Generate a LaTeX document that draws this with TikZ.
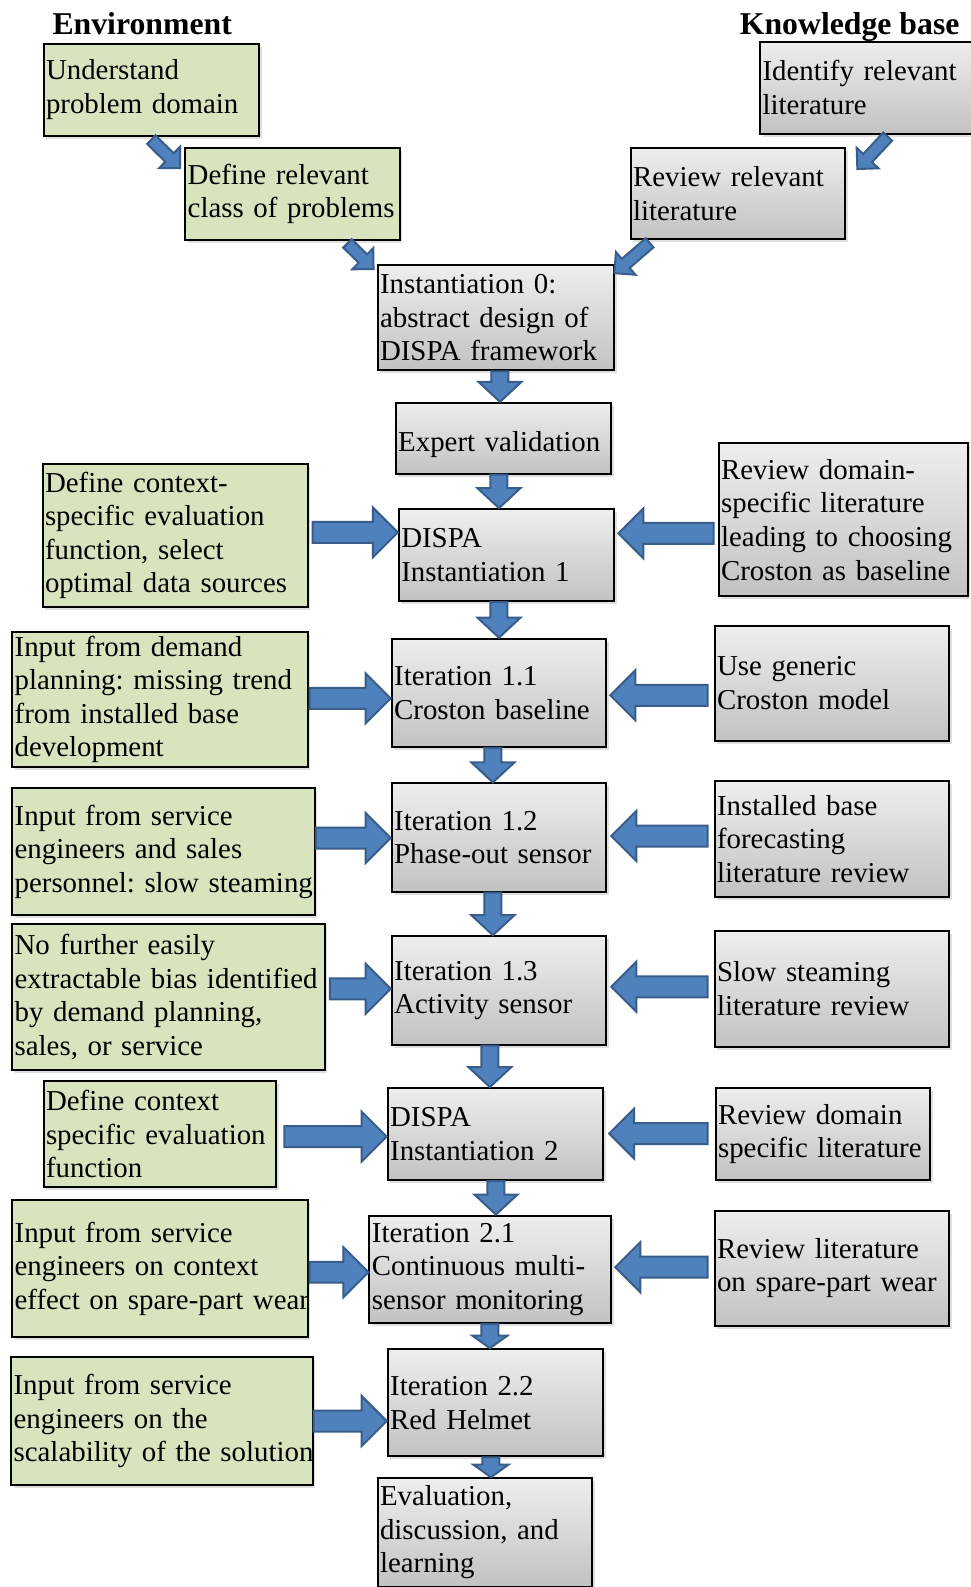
\documentclass[tikz,border=0pt]{standalone}
\usepackage{fontspec}
\setmainfont{Liberation Serif}
\usepackage{tikz}
\definecolor{officeGreen}{HTML}{D7E4BD}
\definecolor{officeBlue}{HTML}{4F81BD}
\definecolor{officeBlueDark}{HTML}{385D8A}
\definecolor{grayTop}{HTML}{EEEEEE}
\definecolor{grayBottom}{HTML}{C2C2C2}
\usetikzlibrary{calc}
\usetikzlibrary{shadows}

\newcommand{\pxunit}{0.405pt}
\newcommand{\boxfont}{\fontsize{11.55pt}{13.45pt}\selectfont\frenchspacing}
\newcommand{\titlefont}{\fontsize{12.7pt}{14pt}\selectfont\bfseries}

\tikzset{
  box/.style 2 args={draw=black, line width=0.8pt, font=\boxfont, align=left,
    inner xsep=1pt, inner ysep=0pt,
    minimum width=#1*\pxunit, minimum height=#2*\pxunit, text width=#1*\pxunit-2pt,
    drop shadow={shadow xshift=1pt, shadow yshift=-1.2pt, opacity=0.25}},
  envbox/.style 2 args={box={#1}{#2}, fill=officeGreen},
  kbbox/.style 2 args={box={#1}{#2}, top color=grayTop, bottom color=grayBottom},
  barrow/.style n args={3}{draw=officeBlueDark, fill=officeBlue, line width=0.8pt,
    to path={let \p1=(\tikztostart), \p2=(\tikztotarget),
      \n1={atan2(\y2-\y1,\x2-\x1)}, \n2={veclen(\x2-\x1,\y2-\y1)} in
      ([shift={(\p1)},rotate=\n1]0pt,#1)
      -- ([shift={(\p1)},rotate=\n1]\n2-#3,#1)
      -- ([shift={(\p1)},rotate=\n1]\n2-#3,#2)
      -- ([shift={(\p1)},rotate=\n1]\n2,0pt)
      -- ([shift={(\p1)},rotate=\n1]\n2-#3,-#2)
      -- ([shift={(\p1)},rotate=\n1]\n2-#3,-#1)
      -- ([shift={(\p1)},rotate=\n1]0pt,-#1)
      -- cycle}},
  varrow/.style={barrow={3.4pt}{8.6pt}{8pt}},
  shortvarrow/.style={barrow={3.4pt}{7pt}{5pt}},
  harrow/.style={barrow={4.2pt}{10pt}{10pt}},
  darrow/.style={barrow={2.4pt}{6pt}{6pt}},
  title/.style={font=\titlefont, anchor=base, inner sep=0pt}
}

\begin{document}
\begin{tikzpicture}[x=0.405pt, y=-0.405pt]
  \useasboundingbox (0,0) rectangle (959,1568);

  \node[title] (envtitle) at (140.5,34) {Environment};
  \node[title] (kbtitle) at (839.5,34) {Knowledge base};

  \node[envbox={213}{91}] (und) at (149.5,88.5) {Understand\\problem domain};
  \node[envbox={212}{91}] (defc) at (289,191.5) {Define relevant\\class of problems};
  \node[envbox={262}{142}] (ctx1) at (173,529) {Define context-\\specific evaluation\\function, select\\optimal data sources};
  \node[envbox={292}{134}] (demand) at (158,691) {Input from demand\\planning: missing trend\\from installed base\\development};
  \node[envbox={299}{125}] (slow) at (161.5,841.5) {Input from service\\engineers and sales\\\mbox{personnel: slow steaming}};
  \node[envbox={309}{144}] (bias) at (166.5,985) {No further easily\\\mbox{extractable bias identified}\\by demand planning,\\sales, or service};
  \node[envbox={230}{105}] (ctx2) at (158,1120.5) {Define context\\specific evaluation\\function};
  \node[envbox={292}{135}] (wearin) at (158,1253.5) {Input from service\\engineers on context\\\mbox{effect on spare-part wear}};
  \node[envbox={298}{126}] (scal) at (160,1404) {Input from service\\engineers on the\\\mbox{scalability of the solution}};

  \node[kbbox={224}{91}] (ident) at (863,86.5) {Identify relevant\\literature};
  \node[kbbox={212}{90}] (revlit) at (729,191) {Review relevant\\literature};
  \node[kbbox={246}{151}] (revdom1) at (833,513.5) {Review domain-\\specific literature\\leading to choosing\\Croston as baseline};
  \node[kbbox={232}{114}] (croston) at (822,675) {Use generic\\Croston model};
  \node[kbbox={232}{114}] (ibf) at (822,829) {Installed base\\forecasting\\literature review};
  \node[kbbox={232}{114}] (slowlit) at (822,977) {Slow steaming\\literature review};
  \node[kbbox={212}{91}] (revdom2) at (813,1120.5) {Review domain\\specific literature};
  \node[kbbox={232}{114}] (wearlit) at (822,1253) {Review literature\\on spare-part wear};

  \node[kbbox={234}{104}] (inst0) at (490,314) {Instantiation 0:\\abstract design of\\DISPA framework};
  \node[kbbox={213}{70}, text height=10.3pt, text depth=0pt] (expert) at (497.5,433) {Expert validation};
  \node[kbbox={213}{91}] (dispa1) at (500.5,548.5) {DISPA\\Instantiation 1};
  \node[kbbox={212}{107}] (it11) at (493,684.5) {Iteration 1.1\\Croston baseline};
  \node[kbbox={212}{107}] (it12) at (493,827.5) {Iteration 1.2\\Phase-out sensor};
  \node[kbbox={212}{107}] (it13) at (493,978.5) {Iteration 1.3\\Activity sensor};
  \node[kbbox={213}{91}] (dispa2) at (489.5,1120.5) {DISPA\\Instantiation 2};
  \node[kbbox={239}{106}] (it21) at (484.5,1254) {Iteration 2.1\\Continuous multi-\\sensor monitoring};
  \node[kbbox={213}{106}] (it22) at (489.5,1386) {Iteration 2.2\\Red Helmet};
  \node[kbbox={212}{107}] (eval) at (479,1514) {Evaluation,\\discussion, and\\learning};

  \path[darrow] ([yshift=-1.2pt]und.south) to ([shift={(-1.6pt,-8.5pt)}]defc.north west);
  \path[darrow] ([shift={(22pt,-1pt)}]defc.south) to ([shift={(-1.2pt,-2pt)}]inst0.north west);
  \path[darrow] ([shift={(5.7pt,-0.8pt)}]ident.south) to ([shift={(4.5pt,-8.9pt)}]revlit.north east);
  \path[darrow] ([shift={(8pt,-1.2pt)}]revlit.south west) to ([shift={(-0.4pt,-3.6pt)}]inst0.north east);

  \path[varrow] (inst0.south -| 494,0) to (expert.north -| 494,0);
  \path[varrow] (expert.south -| 493,0) to (dispa1.north -| 493,0);
  \path[varrow] (dispa1.south -| 493,0) to (it11.north -| 493,0);
  \path[varrow] (it11.south -| 487,0) to (it12.north -| 487,0);
  \path[varrow] (it12.south -| 487,0) to (it13.north -| 487,0);
  \path[varrow] (it13.south -| 484,0) to (dispa2.north -| 484,0);
  \path[varrow] (dispa2.south -| 490,0) to (it21.north -| 490,0);
  \path[shortvarrow] (it21.south -| 484,0) to (it22.north -| 484,0);
  \path[shortvarrow] (it22.south -| 485,0) to (eval.north -| 485,0);

  \path[harrow] ([xshift=1.6pt]ctx1.east |- 0,526) to (dispa1.west |- 0,526);
  \path[harrow] ([xshift=0.4pt]demand.east |- 0,690) to (it11.west |- 0,690);
  \path[harrow] (slow.east |- 0,828) to (it12.west |- 0,828);
  \path[harrow] ([xshift=1.6pt]bias.east |- 0,977) to (it13.west |- 0,977);
  \path[harrow] ([xshift=2.8pt]ctx2.east |- 0,1123) to (dispa2.west |- 0,1123);
  \path[harrow] ([xshift=0.4pt]wearin.east |- 0,1257) to (it21.west |- 0,1257);
  \path[harrow] (scal.east |- 0,1404) to (it22.west |- 0,1404);

  \path[harrow] ([xshift=-1.6pt]revdom1.west |- 0,527) to ([xshift=1.2pt]dispa1.east |- 0,527);
  \path[harrow] ([xshift=-2.4pt]croston.west |- 0,687) to ([xshift=1.2pt]it11.east |- 0,687);
  \path[harrow] ([xshift=-2.4pt]ibf.west |- 0,826) to ([xshift=1.6pt]it12.east |- 0,826);
  \path[harrow] ([xshift=-2.4pt]slowlit.west |- 0,975) to ([xshift=1.6pt]it13.east |- 0,975);
  \path[harrow] ([xshift=-2.8pt]revdom2.west |- 0,1120) to ([xshift=2pt]dispa2.east |- 0,1120);
  \path[harrow] ([xshift=-2.4pt]wearlit.west |- 0,1252) to ([xshift=1.2pt]it21.east |- 0,1252);
\end{tikzpicture}
\end{document}
